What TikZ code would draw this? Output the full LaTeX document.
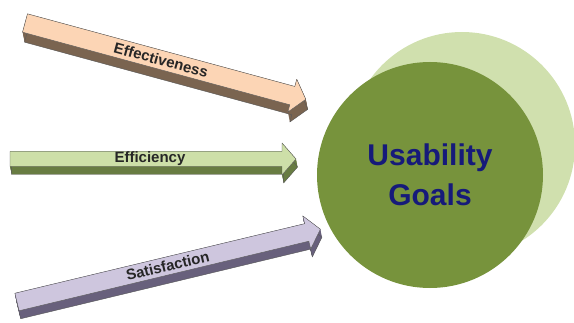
\documentclass[tikz,border=0pt]{standalone}
\usepackage{fontspec}
\setmainfont{Liberation Sans}
\definecolor{peach}{RGB}{252,213,181}
\definecolor{peachside}{RGB}{122,100,80}
\definecolor{leaf}{RGB}{205,223,168}
\definecolor{leafside}{RGB}{104,124,66}
\definecolor{lilac}{RGB}{206,198,222}
\definecolor{lilacside}{RGB}{104,96,124}
\definecolor{olive}{RGB}{119,147,60}
\definecolor{paleolive}{RGB}{208,224,174}
\definecolor{navy}{RGB}{22,26,122}
% block arrow outline: length, shaft half width, head half width, head length
\newcommand{\barrowpath}[4]{(0,#2) -- (#1-#4,#2) -- (#1-#4,#3) -- (#1,0) --
  (#1-#4,-#3) -- (#1-#4,-#2) -- (0,-#2) -- cycle}
\begin{document}
\begin{tikzpicture}[x=1pt, y=1pt,
    edge/.style={draw=black!65, line width=0.4pt, line join=round},
    lbl/.style={font=\bfseries\fontsize{15}{15}\selectfont, text=black!85,
      transform shape},
    goal/.style={circle, inner sep=0pt, minimum size=226pt}]
  \useasboundingbox (0,0) rectangle (574,322);
  % the two discs
  \node [goal, fill=paleolive] (back) at (462,177) {};
  \node [goal, fill=olive, text=navy, align=center,
    font=\bfseries\fontsize{30}{40}\selectfont] (goals) at (430,147)
    {Usability\\Goals};
  % Effectiveness
  \begin{scope}[shift={(25,299)}]
    \foreach \k in {0,0.5,...,10} \fill [peachside, xshift=0.2*\k, yshift=-\k,
      rotate=-15.2] \barrowpath{291}{9.5}{17}{14};
    \draw [edge, xshift=2, yshift=-10, rotate=-15.2] \barrowpath{291}{9.5}{17}{14};
    \begin{scope}[rotate=-15.2]
      \draw [edge, fill=peach] \barrowpath{291}{9.5}{17}{14};
      \node [lbl] (eff) at (141,0) {Effectiveness};
    \end{scope}
  \end{scope}
  % Efficiency
  \begin{scope}[shift={(10,163)}]
    \foreach \k in {0,0.5,...,8} \fill [leafside, xshift=0.2*\k, yshift=-\k]
      \barrowpath{286}{7.5}{16}{14};
    \draw [edge, xshift=1.6, yshift=-8] \barrowpath{286}{7.5}{16}{14};
    \draw [edge, fill=leaf] \barrowpath{286}{7.5}{16}{14};
    \node [lbl] (effi) at (140,0) {Efficiency};
  \end{scope}
  % Satisfaction
  \begin{scope}[shift={(17,20)}]
    \foreach \k in {0,0.5,...,8} \fill [lilacside, xshift=0.2*\k, yshift=-\k,
      rotate=13.5] \barrowpath{312}{9}{17}{14};
    \draw [edge, xshift=1.6, yshift=-8, rotate=13.5] \barrowpath{312}{9}{17}{14};
    \begin{scope}[rotate=13.5]
      \draw [edge, fill=lilac] \barrowpath{312}{9}{17}{14};
      \node [lbl] (sat) at (155,0) {Satisfaction};
    \end{scope}
  \end{scope}
\end{tikzpicture}
\end{document}
